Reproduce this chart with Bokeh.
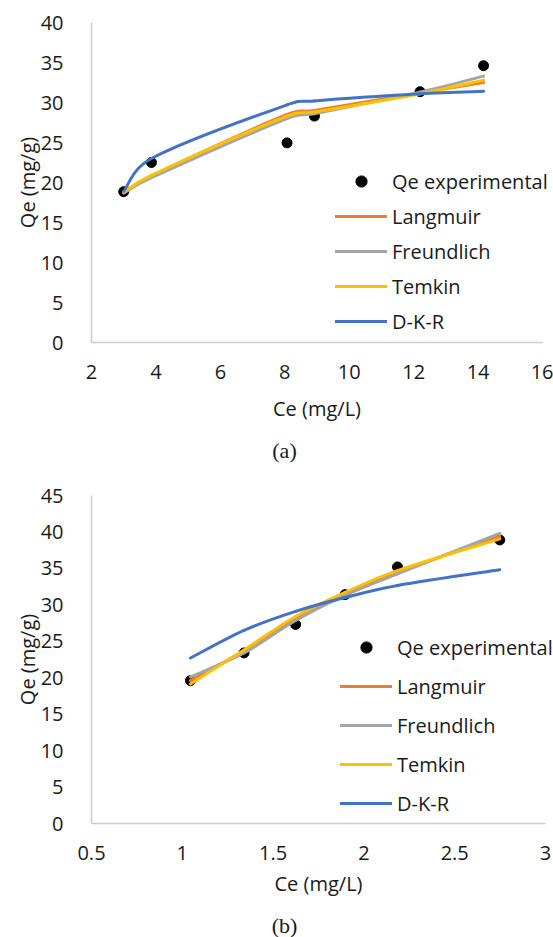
import math
from bokeh.plotting import figure
from bokeh.layouts import column
from bokeh.models import Range1d, FixedTicker, Legend, LegendItem, Label
from bokeh.embed import file_html
from bokeh.resources import INLINE

# ---------------- data: panel (a) ----------------
ce_a = [3.0, 3.86, 8.07, 8.92, 12.2, 14.17]
qe_exp_a = [18.85, 22.5, 24.95, 28.3, 31.35, 34.6]
langmuir_a = [18.7, 20.8, 28.5, 29.0, 31.2, 32.5]
freundlich_a = [18.7, 20.6, 28.0, 28.6, 31.3, 33.3]
temkin_a = [18.8, 20.9, 28.3, 28.8, 31.1, 32.8]
dkr_a = [18.9, 23.0, 29.7, 30.2, 31.1, 31.4]
xticks_a = [2, 4, 6, 8, 10, 12, 14, 16]
xlabels_a = ["2", "4", "6", "8", "10", "12", "14", "16"]
yticks_a = [0, 5, 10, 15, 20, 25, 30, 35, 40]
ylabels_a = ["0", "5", "10", "15", "20", "25", "30", "35", "40"]

# ---------------- data: panel (b) ----------------
ce_b = [1.045, 1.34, 1.624, 1.896, 2.185, 2.748]
qe_exp_b = [19.6, 23.4, 27.3, 31.4, 35.2, 38.9]
langmuir_b = [19.6, 23.7, 28.1, 31.6, 34.5, 39.4]
freundlich_b = [20.1, 23.4, 27.85, 31.3, 34.25, 39.8]
temkin_b = [19.15, 23.8, 28.4, 31.7, 34.7, 39.05]
dkr_b = [22.7, 26.5, 29.1, 31.0, 32.65, 34.8]
xticks_b = [0.5, 1, 1.5, 2, 2.5, 3]
xlabels_b = ["0.5", "1", "1.5", "2", "2.5", "3"]
yticks_b = [0, 5, 10, 15, 20, 25, 30, 35, 40, 45]
ylabels_b = ["0", "5", "10", "15", "20", "25", "30", "35", "40", "45"]

series_names = ["Langmuir", "Freundlich", "Temkin", "D-K-R"]
series_colors = ["#ED7D31", "#A5A5A5", "#FFC000", "#4472C4"]
x_title = "Ce (mg/L)"
y_title = "Qe (mg/g)"

FONT = "Open Sans"
TXT = "#1a1a1a"
W = 553


def smooth_segments(xs, ys, kx, ky):
    """Cubic Bezier segments (smoothed line) through the points.
    kx, ky: pixels per data unit, used to weight tangents by segment length."""
    n = len(xs)
    L = [math.sqrt(math.hypot((xs[i + 1] - xs[i]) * kx, (ys[i + 1] - ys[i]) * ky))
         for i in range(n - 1)]
    d = {k: [] for k in ["x0", "y0", "x1", "y1", "cx0", "cy0", "cx1", "cy1"]}
    for i in range(n - 1):
        ip = max(i - 1, 0)
        inn = min(i + 2, n - 1)
        lp = L[i - 1] if i > 0 else L[i]
        ln = L[i + 1] if i + 1 < n - 1 else L[i]
        f0 = L[i] / (lp + L[i]) / 3.0
        f1 = L[i] / (ln + L[i]) / 3.0
        d["x0"].append(xs[i]); d["y0"].append(ys[i])
        d["x1"].append(xs[i + 1]); d["y1"].append(ys[i + 1])
        d["cx0"].append(xs[i] + (xs[i + 1] - xs[ip]) * f0)
        d["cy0"].append(ys[i] + (ys[i + 1] - ys[ip]) * f0)
        d["cx1"].append(xs[i + 1] - (xs[inn] - xs[i]) * f1)
        d["cy1"].append(ys[i + 1] - (ys[inn] - ys[i]) * f1)
    return d


def make_panel(ce, qe, models, xr, yr, xt, xl, yt, yl, h, geom,
               caption, leg_loc, spacing, xlab_y, cap_y):
    # geom: pixel positions (from the figure's top-left) of the axis ends
    px_x0, px_x1, px_ytop, px_y0 = geom
    kx = (px_x1 - px_x0) / (xr[1] - xr[0])
    ky = (px_y0 - px_ytop) / (yr[1] - yr[0])
    x_start = xr[0] - px_x0 / kx
    x_end = xr[0] + (W - px_x0) / kx
    y_start = yr[0] - (h - px_y0) / ky
    y_end = yr[1] + px_ytop / ky
    p = figure(width=W, height=h, output_backend="svg", toolbar_location=None,
               x_range=Range1d(x_start, x_end), y_range=Range1d(y_start, y_end),
               min_border=0, min_border_top=0, min_border_bottom=0,
               min_border_left=0, min_border_right=0)
    p.outline_line_color = None
    p.grid.visible = False
    p.background_fill_color = "white"
    p.border_fill_color = "white"

    p.xaxis.fixed_location = yr[0]
    p.yaxis.fixed_location = xr[0]
    p.xaxis.bounds = xr
    p.yaxis.bounds = yr
    p.xaxis.ticker = FixedTicker(ticks=xt)
    p.xaxis.major_label_overrides = dict(zip(xt, xl))
    p.yaxis.ticker = FixedTicker(ticks=yt)
    p.yaxis.major_label_overrides = dict(zip(yt, yl))
    for ax in (p.xaxis, p.yaxis):
        ax.axis_line_color = "#cccccc"
        ax.axis_line_width = 1.5
        ax.major_tick_line_color = None
        ax.minor_tick_line_color = None
        ax.major_label_text_font = FONT
        ax.major_label_text_font_size = "20px"
        ax.major_label_text_color = TXT
    p.xaxis.major_label_standoff = 16
    p.yaxis.major_label_standoff = 22

    pts = p.scatter(ce, qe, size=10, fill_color="black", line_color="black", marker="circle")
    items = [LegendItem(label="Qe experimental", renderers=[pts])]
    for name, color, vals in zip(series_names, series_colors, models):
        seg = smooth_segments(ce, vals, kx, ky)
        r = p.bezier(x0=seg["x0"], y0=seg["y0"], x1=seg["x1"], y1=seg["y1"],
                     cx0=seg["cx0"], cy0=seg["cy0"], cx1=seg["cx1"], cy1=seg["cy1"],
                     line_color=color, line_width=3, line_cap="round")
        items.append(LegendItem(label=name, renderers=[r]))

    leg = Legend(items=items, location=leg_loc, orientation="vertical",
                 glyph_width=52, glyph_height=28, label_height=28,
                 spacing=spacing, padding=0, margin=0,
                 label_standoff=5, border_line_color=None,
                 background_fill_alpha=0, label_text_font=FONT,
                 label_text_font_size="20px", label_text_color=TXT)
    p.add_layout(leg, "center")

    # axis titles and caption (screen units, measured from the bottom-left)
    mid_x = (px_x0 + px_x1) / 2.0
    mid_y = h - (px_ytop + px_y0) / 2.0
    p.add_layout(Label(x=mid_x, y=h - xlab_y, x_units="screen", y_units="screen",
                       text=x_title, text_font=FONT, text_font_size="20px",
                       text_color=TXT, text_align="center", text_baseline="middle"))
    p.add_layout(Label(x=27, y=mid_y, x_units="screen", y_units="screen",
                       text=y_title, text_font=FONT, text_font_size="20px",
                       text_color=TXT, text_align="center", text_baseline="middle",
                       angle=90, angle_units="deg"))
    p.add_layout(Label(x=284, y=h - cap_y, x_units="screen", y_units="screen",
                       text=caption, text_font="Liberation Serif", text_font_size="22px",
                       text_color=TXT, text_align="center", text_baseline="middle"))
    return p


pa = make_panel(ce_a, qe_exp_a, [langmuir_a, freundlich_a, temkin_a, dkr_a],
                (2, 16), (0, 40), xticks_a, xlabels_a, yticks_a, ylabels_a,
                470, (91, 542, 22, 342), "(a)", (335, 135), 7, 408, 450)
pb = make_panel(ce_b, qe_exp_b, [langmuir_b, freundlich_b, temkin_b, dkr_b],
                (0.5, 3), (0, 45), xticks_b, xlabels_b, yticks_b, ylabels_b,
                467, (91, 545, 25, 353), "(b)", (340, 120), 11, 413, 455)

layout = column(pa, pb, spacing=0)
open("out.html", "w").write(file_html(layout, INLINE))
